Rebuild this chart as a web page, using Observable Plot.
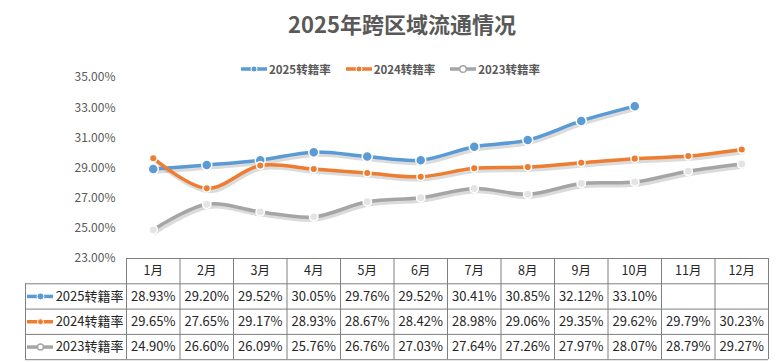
<!DOCTYPE html>
<html>
<head>
<meta charset="utf-8">
<script src="https://cdn.jsdelivr.net/npm/d3@7"></script>
<script src="https://cdn.jsdelivr.net/npm/@observablehq/plot@0.6"></script>
<style>
  html, body { margin: 0; padding: 0; background: #fff; }
  body { font-family: "Microsoft YaHei", "Noto Sans CJK SC", sans-serif; }
  #wrap { position: relative; width: 778px; height: 362px; overflow: hidden; }
  #chart { position: absolute; left: 0; top: 0; }
  #title { position: absolute; left: 0; width: 804px; top: 7px; text-align: center;
           font-size: 22px; font-weight: bold; color: #595959; }
  #legend { position: absolute; left: 240px; top: 61px; display: flex; gap: 14px;
            font-size: 11.5px; font-weight: bold; color: #595959; align-items: center; }
  #legend .item { display: flex; align-items: center; gap: 1px; }
</style>
</head>
<body>
<div id="wrap">
  <div id="chart"></div>
  <div id="title">2025年跨区域流通情况</div>
  <div id="legend"></div>
</div>
<script>
// ---- data ----
const months = ["1月","2月","3月","4月","5月","6月","7月","8月","9月","10月","11月","12月"];
const seriesNames = ["2025转籍率","2024转籍率","2023转籍率"];
const values2025 = [28.93,29.20,29.52,30.05,29.76,29.52,30.41,30.85,32.12,33.10];
const values2024 = [29.65,27.65,29.17,28.93,28.67,28.42,28.98,29.06,29.35,29.62,29.79,30.23];
const values2023 = [24.90,26.60,26.09,25.76,26.76,27.03,27.64,27.26,27.97,28.07,28.79,29.27];
const yTicks = [23,25,27,29,31,33,35];

// ---- styles ----
const colors = ["#5B9BD5","#ED7D31","#A5A5A5"];
const dotR = [5, 3.8, 4.2];
const dotFill = ["#5B9BD5","#ED7D31","#E4E4E4"];
const W = 778, H = 362;
const mL = 126, mR = 10, mT = 77, mB = 104;
const pxPerY = (H - mT - mB) / (35 - 23);
const pxPerX = (W - mL - mR) / 12;
const yOfPx = px => 23 - (px - (H - mB)) / pxPerY;   // convert layout px to y units
const xOfPx = px => 0.5 + (px - mL) / pxPerX;          // convert layout px to x units

const allSeries = [values2025, values2024, values2023];
const rows = [];
allSeries.forEach((vals, s) => vals.forEach((v, i) => rows.push({series: seriesNames[s], s, month: i + 1, value: v})));

// table geometry (layout)
const rowPx = [258, 283.3, 308.6, 333.9, 359.2];
const rowY = rowPx.map(yOfPx);
const labelLeft = xOfPx(25);
const colEdges = d3.range(0, 13).map(i => i + 0.5);

const hLines = rowY.map((y, k) => ({y, x1: k === 0 ? 0.5 : labelLeft, x2: 12.5}));
const vLines = colEdges.map(x => ({x, y1: rowY[0], y2: rowY[4]}));
vLines.push({x: labelLeft, y1: rowY[1], y2: rowY[4]});

const headerCells = months.map((m, i) => ({x: i + 1, y: (rowY[0] + rowY[1]) / 2, text: m}));
const valueCells = rows.map(d => ({x: d.month, y: (rowY[d.s + 1] + rowY[d.s + 2]) / 2, text: d.value.toFixed(2) + "%"}));
const labelCells = seriesNames.map((n, s) => ({s, y: (rowY[s + 1] + rowY[s + 2]) / 2, text: n}));

const marks = [];
// shadows
seriesNames.forEach((n, s) => {
  marks.push(Plot.line(rows.filter(d => d.s === s), {x: "month", y: "value", stroke: "#000", strokeOpacity: 0.14,
    strokeWidth: 4.5, curve: "catmull-rom", dx: 1.5, dy: 2.5}));
});
seriesNames.forEach((n, s) => {
  const data = rows.filter(d => d.s === s);
  marks.push(Plot.line(data, {x: "month", y: "value", stroke: colors[s], strokeWidth: 3.5, curve: "catmull-rom"}));
});
seriesNames.forEach((n, s) => {
  const data = rows.filter(d => d.s === s);
  marks.push(Plot.dot(data, {x: "month", y: "value", r: dotR[s], fill: dotFill[s], stroke: "#fff", strokeWidth: 1.5}));
});
// y axis
marks.push(Plot.axisY({ticks: yTicks, tickFormat: d => d.toFixed(2) + "%", tickSize: 0, tickPadding: 11,
  fontSize: 12, fill: "#595959", label: null}));
// table
marks.push(Plot.ruleY(hLines, {y: "y", x1: "x1", x2: "x2", stroke: "#7f7f7f", strokeWidth: 1}));
marks.push(Plot.ruleX(vLines, {x: "x", y1: "y1", y2: "y2", stroke: "#7f7f7f", strokeWidth: 1}));
marks.push(Plot.text(headerCells, {x: "x", y: "y", text: "text", fontSize: 12.5, fill: "#262626"}));
marks.push(Plot.text(valueCells, {x: "x", y: "y", text: "text", fontSize: 13, fill: "#262626"}));
marks.push(Plot.text(labelCells, {x: 0.5, y: "y", text: "text", textAnchor: "end", dx: -3, fontSize: 13, fill: "#262626"}));
// legend keys inside table
seriesNames.forEach((n, s) => {
  const y = labelCells[s].y;
  marks.push(Plot.ruleY([y], {x1: xOfPx(27), x2: xOfPx(53), stroke: colors[s], strokeWidth: 3.5}));
  marks.push(Plot.dot([y], {x: xOfPx(40), y: d => d, r: s === 0 ? 3.5 : 3, fill: s === 2 ? "#fff" : colors[s],
    stroke: s === 2 ? colors[s] : "#fff", strokeWidth: s === 2 ? 1.5 : 1}));
});

const chart = Plot.plot({
  width: W, height: H,
  marginLeft: mL, marginRight: mR, marginTop: mT, marginBottom: mB,
  x: {type: "linear", domain: [0.5, 12.5], axis: null},
  y: {domain: [23, 35], axis: null},
  style: {fontFamily: "'Microsoft YaHei', 'Noto Sans CJK SC', sans-serif", background: "transparent"},
  marks
});
document.getElementById("chart").appendChild(chart);

// top legend
const legend = d3.select("#legend");
seriesNames.forEach((n, s) => {
  const item = legend.append("div").attr("class", "item");
  const svg = item.append("svg").attr("width", 28).attr("height", 10);
  svg.append("line").attr("x1", 1).attr("x2", 27).attr("y1", 5).attr("y2", 5)
    .attr("stroke", colors[s]).attr("stroke-width", 3.5);
  svg.append("circle").attr("cx", 14).attr("cy", 5).attr("r", s === 2 ? 3.3 : 3)
    .attr("fill", s === 2 ? "#fff" : colors[s]).attr("stroke", s === 2 ? colors[s] : "#fff").attr("stroke-width", s === 2 ? 1.5 : 1);
  item.append("span").text(n);
});
</script>
</body>
</html>
